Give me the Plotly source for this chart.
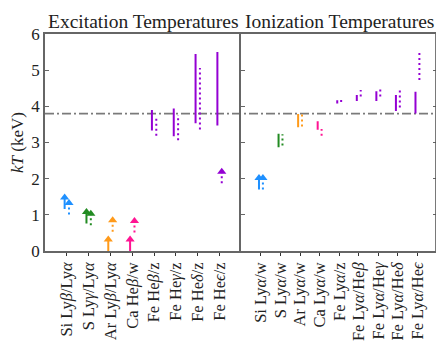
import plotly.graph_objs as go
from plotly.subplots import make_subplots

# excitation temperatures (left panel)
exc_labels = ['Si Ly<i>β</i>/Ly<i>α</i>', 'S Ly<i>γ</i>/Ly<i>α</i>', 'Ar Ly<i>β</i>/Ly<i>α</i>',
              'Ca He<i>β</i>/w', 'Fe He<i>β</i>/z', 'Fe He<i>γ</i>/z', 'Fe He<i>δ</i>/z', 'Fe He<i>ϵ</i>/z']
exc_solid_low = [1.16, 0.76, 0.0, 0.0, 3.33, 3.17, 3.53, 3.47]
exc_solid_high = [None, None, None, None, 3.90, 3.94, 5.45, 5.50]
exc_dot_low = [1.01, 0.71, 0.53, 0.51, 3.19, 3.06, 3.36, 1.87]
exc_dot_high = [None, None, None, None, 3.72, 3.76, 5.06, None]

# ionization temperatures (right panel)
ion_labels = ['Si Ly<i>α</i>/w', 'S Ly<i>α</i>/w', 'Ar Ly<i>α</i>/w', 'Ca Ly<i>α</i>/w', 'Fe Ly<i>α</i>/z',
              'Fe Ly<i>α</i>/He<i>β</i>', 'Fe Ly<i>α</i>/He<i>γ</i>', 'Fe Ly<i>α</i>/He<i>δ</i>', 'Fe Ly<i>α</i>/He<i>ϵ</i>']
ion_solid_low = [1.70, 2.87, 3.42, 3.35, 4.08, 4.15, 4.15, 3.87, 3.80]
ion_solid_high = [None, 3.24, 3.79, 3.59, 4.17, 4.31, 4.42, 4.31, 4.40]
ion_dot_low = [1.70, 2.92, 3.44, 3.19, 4.12, 4.27, 4.27, 3.97, 4.73]
ion_dot_high = [None, 3.23, 3.78, 3.37, 4.19, 4.45, 4.53, 4.45, 5.53]

kT_ref = 3.8

exc_colors = ['#1E90FF', '#228B22', '#FF9A1A', '#FF1493'] + ['#9400D3'] * 4
ion_colors = ['#1E90FF', '#228B22', '#FF9A1A', '#FF1493'] + ['#9400D3'] * 5

FONT = 'Liberation Serif'
ARROW = 0.32   # arrow shaft length (keV)
OFF = 0.1      # horizontal offset of solid / dotted markers

fig = make_subplots(rows=1, cols=2, shared_yaxes=True, horizontal_spacing=0,
                    subplot_titles=('Excitation Temperatures', 'Ionization Temperatures'))


def add_marks(col, lows, highs, colors, dx, dash):
    for i, (lo, hi, c) in enumerate(zip(lows, highs, colors)):
        x = i + dx
        if hi is None:
            top = lo + ARROW
            fig.add_trace(go.Scatter(x=[x, x], y=[lo, top], mode='lines',
                                     line=dict(color=c, width=2, dash=dash),
                                     showlegend=False, hoverinfo='skip'), row=1, col=col)
            fig.add_trace(go.Scatter(x=[x], y=[top], mode='markers',
                                     marker=dict(symbol='triangle-up', size=8, color=c),
                                     showlegend=False, hoverinfo='skip'), row=1, col=col)
        else:
            fig.add_trace(go.Scatter(x=[x, x], y=[lo, hi], mode='lines',
                                     line=dict(color=c, width=2, dash=dash),
                                     showlegend=False, hoverinfo='skip'), row=1, col=col)


add_marks(1, exc_solid_low, exc_solid_high, exc_colors, -OFF, 'solid')
add_marks(1, exc_dot_low, exc_dot_high, exc_colors, OFF, '2px,3px')
add_marks(2, ion_solid_low, ion_solid_high, ion_colors, -OFF, 'solid')
add_marks(2, ion_dot_low, ion_dot_high, ion_colors, OFF, '2px,3px')

fig.add_shape(type='line', xref='paper', x0=0, x1=1, yref='y', y0=kT_ref, y1=kT_ref,
              line=dict(color='#7a7a7a', width=1.8, dash='9px,3px,2px,3px'), layer='below')
# right frame edge
fig.add_shape(type='line', xref='paper', x0=0.998, x1=0.998, yref='paper', y0=0, y1=1,
              line=dict(color='#555555', width=2))

axis_style = dict(showline=True, linecolor='#666666', linewidth=1.5,
                  showgrid=False, zeroline=False)

fig.update_xaxes(axis_style, mirror=True, ticks='outside', ticklen=3, tickcolor='#333333', tickangle=-90,
                 tickfont=dict(family=FONT, size=16.5, color='#222222'))
fig.update_xaxes(range=[-1, len(exc_labels)], tickvals=list(range(len(exc_labels))),
                 ticktext=exc_labels, domain=[0, 0.501], row=1, col=1)
fig.update_xaxes(range=[-1, len(ion_labels)], tickvals=list(range(len(ion_labels))),
                 ticktext=ion_labels, domain=[0.501, 1], row=1, col=2)

fig.update_yaxes(axis_style, range=[0, 6], dtick=1, ticks='inside', ticklen=4, tickcolor='#666666',
                 tickfont=dict(family=FONT, size=17, color='#222222'))
fig.update_yaxes(mirror=False, title=dict(text='<i>kT</i> (keV)',
                 font=dict(family=FONT, size=17, color='#222222'), standoff=6), row=1, col=1)
fig.update_yaxes(mirror='ticks', row=1, col=2)

for ann in fig.layout.annotations:
    ann.font = dict(family=FONT, size=19.5, color='#222222')

# the page body adds an 8px margin, so the figure is sized to fit the window
fig.update_layout(width=436, height=341, margin=dict(l=36, r=5, t=26, b=98),
                  plot_bgcolor='white', paper_bgcolor='white', showlegend=False)

fig.write_html('out.html')
